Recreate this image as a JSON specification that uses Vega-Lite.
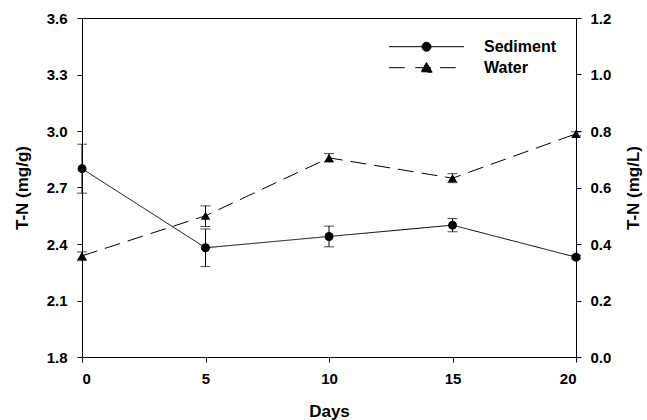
{
  "$schema": "https://vega.github.io/schema/vega-lite/v6.json",
  "width": 494,
  "height": 339,
  "autosize": "none",
  "padding": {"left": 82, "top": 18, "right": 71, "bottom": 63},
  "background": "white",
  "config": {
    "font": "Liberation Sans",
    "view": {"stroke": "black", "strokeWidth": 1},
    "axis": {
      "grid": false,
      "domainColor": "black",
      "tickColor": "black",
      "labelColor": "black",
      "titleColor": "black",
      "labelFont": "Liberation Sans",
      "titleFont": "Liberation Sans",
      "labelFontWeight": "bold",
      "titleFontWeight": "bold",
      "labelFontSize": 15,
      "titleFontSize": 17,
      "tickSize": 5,
      "tickWidth": 1,
      "domainWidth": 1
    },
    "legend": {
      "title": null, "orient": "none", "legendX": 306.5, "legendY": 20.7,
      "symbolSize": 5625, "labelOffset": 19.5, "labelFontSize": 16, "labelFontWeight": "bold",
      "labelFont": "Liberation Sans", "labelColor": "black", "clipHeight": 16, "rowPadding": 5, "padding": 0,
      "symbolStrokeWidth": 1, "symbolFillColor": "black", "symbolStrokeColor": "black", "symbolOpacity": 1
    }
  },
  "datasets": {
    "d": [
      {"day": 0, "series": "Sediment", "value": 2.80, "lo": 2.67, "hi": 2.93},
      {"day": 5, "series": "Sediment", "value": 2.38, "lo": 2.28, "hi": 2.48},
      {"day": 10, "series": "Sediment", "value": 2.44, "lo": 2.385, "hi": 2.495},
      {"day": 15, "series": "Sediment", "value": 2.50, "lo": 2.465, "hi": 2.535},
      {"day": 20, "series": "Sediment", "value": 2.33, "lo": 2.32, "hi": 2.34},
      {"day": 0, "series": "Water", "value": 0.358, "lo": 0.341, "hi": 0.372},
      {"day": 5, "series": "Water", "value": 0.50, "lo": 0.462, "hi": 0.535},
      {"day": 10, "series": "Water", "value": 0.705, "lo": 0.69, "hi": 0.72},
      {"day": 15, "series": "Water", "value": 0.633, "lo": 0.617, "hi": 0.649},
      {"day": 20, "series": "Water", "value": 0.79, "lo": 0.783, "hi": 0.797}
    ]
  },
  "data": {"name": "d"},
  "layer": [
    {
      "transform": [{"filter": "datum.series === 'Sediment'"}],
      "layer": [
        {
          "mark": {"type": "errorbar", "color": "black", "thickness": 1, "ticks": {"size": 10, "color": "black", "thickness": 1}},
          "encoding": {
            "x": {"field": "day", "type": "quantitative", "scale": {"domain": [0, 20]}, "axis": {"values": [0, 5, 10, 15, 20], "title": "Days", "labelPadding": 9, "titlePadding": 17}},
            "y": {"field": "lo", "type": "quantitative", "scale": {"domain": [1.8, 3.6]}, "axis": {"values": [1.8, 2.1, 2.4, 2.7, 3.0, 3.3, 3.6], "format": ".1f", "title": "T-N (mg/g)", "labelPadding": 10, "titlePadding": 15}},
            "y2": {"field": "hi"}
          }
        },
        {
          "mark": {"type": "line", "color": "black", "strokeWidth": 1},
          "encoding": {
            "x": {"field": "day", "type": "quantitative", "scale": {"domain": [0, 20]}, "axis": {"values": [0, 5, 10, 15, 20], "title": "Days", "labelPadding": 9, "titlePadding": 17}},
            "y": {"field": "value", "type": "quantitative", "scale": {"domain": [1.8, 3.6]}, "axis": {"values": [1.8, 2.1, 2.4, 2.7, 3.0, 3.3, 3.6], "format": ".1f", "title": "T-N (mg/g)", "labelPadding": 10, "titlePadding": 15}},
            "strokeDash": {
              "field": "series", "type": "nominal",
              "scale": {"domain": ["Sediment", "Water"], "range": [[1, 0], [16, 8]]},
              "legend": {
                "symbolType": {"expr": "datum.value === 'Sediment' ? 'M-1,0L1,0M0.12,0A0.12,0.12,0,1,1,-0.12,0A0.12,0.12,0,1,1,0.12,0Z' : 'M-1,0L-0.58,0M-0.3,0L0.12,0M0.36,0L0.78,0M0,-0.14L0.15,0.12L-0.15,0.12Z'"}
              }
            }
          }
        },
        {
          "mark": {"type": "point", "shape": "circle", "filled": true, "color": "black", "size": 80, "opacity": 1},
          "encoding": {
            "x": {"field": "day", "type": "quantitative", "scale": {"domain": [0, 20]}},
            "y": {"field": "value", "type": "quantitative", "scale": {"domain": [1.8, 3.6]}}
          }
        }
      ]
    },
    {
      "transform": [{"filter": "datum.series === 'Water'"}],
      "layer": [
        {
          "mark": {"type": "errorbar", "color": "black", "thickness": 1, "ticks": {"size": 10, "color": "black", "thickness": 1}},
          "encoding": {
            "x": {"field": "day", "type": "quantitative", "scale": {"domain": [0, 20]}},
            "y": {"field": "lo", "type": "quantitative", "scale": {"domain": [0, 1.2]}, "axis": {"orient": "right", "values": [0, 0.2, 0.4, 0.6, 0.8, 1.0, 1.2], "format": ".1f", "title": "T-N (mg/L)", "labelPadding": 9, "titlePadding": 32, "titleAngle": 270}},
            "y2": {"field": "hi"}
          }
        },
        {
          "mark": {"type": "line", "color": "black", "strokeWidth": 1},
          "encoding": {
            "x": {"field": "day", "type": "quantitative", "scale": {"domain": [0, 20]}},
            "y": {"field": "value", "type": "quantitative", "scale": {"domain": [0, 1.2]}, "axis": {"orient": "right", "values": [0, 0.2, 0.4, 0.6, 0.8, 1.0, 1.2], "format": ".1f", "title": "T-N (mg/L)", "labelPadding": 9, "titlePadding": 32, "titleAngle": 270}},
            "strokeDash": {
              "field": "series", "type": "nominal",
              "scale": {"domain": ["Sediment", "Water"], "range": [[1, 0], [16, 8]]},
              "legend": {
                "symbolType": {"expr": "datum.value === 'Sediment' ? 'M-1,0L1,0M0.12,0A0.12,0.12,0,1,1,-0.12,0A0.12,0.12,0,1,1,0.12,0Z' : 'M-1,0L-0.58,0M-0.3,0L0.12,0M0.36,0L0.78,0M0,-0.14L0.15,0.12L-0.15,0.12Z'"}
              }
            }
          }
        },
        {
          "mark": {"type": "point", "shape": "triangle-up", "filled": true, "color": "black", "size": 90, "opacity": 1},
          "encoding": {
            "x": {"field": "day", "type": "quantitative", "scale": {"domain": [0, 20]}},
            "y": {"field": "value", "type": "quantitative", "scale": {"domain": [0, 1.2]}}
          }
        }
      ]
    }
  ],
  "resolve": {"scale": {"y": "independent"}}
}
